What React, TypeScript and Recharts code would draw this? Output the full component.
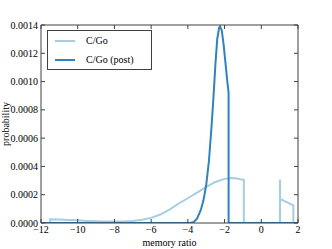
import React from 'react';
import { LineChart, Line, XAxis, YAxis, Legend } from 'recharts';

const FONT = '"Liberation Serif", "Times New Roman", serif';
const LIGHT = '#a6cee3';
const DARK = '#3182bd';

const xTicks = [-12, -10, -8, -6, -4, -2, 0, 2];
const yTicks = [0, 0.0002, 0.0004, 0.0006, 0.0008, 0.001, 0.0012, 0.0014];

const cgoX = [-12, -11.5, -11.5, -11, -10.5, -10, -9.5, -9, -8.5, -8, -7.5, -7, -6.5, -6, -5.5, -5, -4.5, -4, -3.5, -3, -2.5, -2, -1.7, -1.4, -1.15, -0.95, -0.95, 1.02, 1.02, 1.02, 1.75, 1.75, 2];
const cgoY = [0, 0, 0.000027, 0.000025, 0.000022, 0.000019, 0.000015, 0.000012, 0.00001, 0.00001, 0.000011, 0.000015, 0.000023, 0.000036, 0.00006, 0.000095, 0.000138, 0.000175, 0.000215, 0.000255, 0.00029, 0.000312, 0.000318, 0.000317, 0.00031, 0.000305, 0, 0, 0.000305, 0.00017, 0.000125, 0, 0];

const postX = [-12, -3.9, -3.7, -3.5, -3.3, -3.15, -3.0, -2.85, -2.7, -2.6, -2.5, -2.4, -2.3, -2.25, -2.15, -2.05, -1.95, -1.85, -1.78, -1.78, 2];
const postY = [0, 0, 0.000005, 0.00003, 0.00009, 0.00016, 0.00027, 0.00044, 0.0007, 0.0009, 0.00112, 0.0013, 0.00138, 0.00139, 0.00136, 0.00126, 0.00113, 0.001, 0.00092, 0, 0];

const cgoData = cgoX.map((x, i) => ({ x, y: cgoY[i] }));
const postData = postX.map((x, i) => ({ x, y: postY[i] }));

const tickStyle = { fontFamily: FONT, fontSize: 10, fill: '#000' };
const axisStroke = '#404040';

const LegendBox = (props: any) => {
  const payload = props.payload || [];
  return (
    <div
      style={{
        width: 105,
        height: 40,
        border: '1px solid #404040',
        boxSizing: 'border-box',
        background: '#fff',
        position: 'relative',
        fontFamily: FONT,
        fontSize: 10,
        color: '#000',
      }}
    >
      {payload.map((p: any, i: number) => (
        <div key={i} style={{ position: 'absolute', left: 0, top: 3 + i * 18.5, height: 14, width: 103 }}>
          <div style={{ position: 'absolute', left: 7, top: 6, width: 20, height: 2, background: p.color }} />
          <span style={{ position: 'absolute', left: 38, top: 0, lineHeight: '14px', whiteSpace: 'nowrap' }}>{p.value}</span>
        </div>
      ))}
    </div>
  );
};

const YLabel = (props: any) => {
  const vb = props.viewBox || { y: 25, height: 198 };
  const cy = vb.y + vb.height / 2;
  return (
    <text x={8.5} y={cy} transform={`rotate(-90, 8.5, ${cy})`} textAnchor="middle" style={{ fontFamily: FONT, fontSize: 10, fill: '#000' }}>
      probability
    </text>
  );
};

export default function App() {
  return (
    <div style={{ position: 'absolute', left: 0, top: 0, width: 332, height: 249, background: '#fff', fontFamily: FONT }}>
      <LineChart width={332} height={249} margin={{ top: 24, right: 33, bottom: 0, left: 0 }} style={{ fontFamily: FONT }}>
        <XAxis
          xAxisId="b"
          type="number"
          dataKey="x"
          domain={[-12, 2]}
          ticks={xTicks}
          allowDataOverflow
          height={26}
          tickSize={-4}
          tickMargin={7}
          stroke={axisStroke}
          tick={tickStyle}
          tickFormatter={(v: number) => (v < 0 ? '\u2212' + Math.abs(v) : String(v))}
          label={{ value: 'memory ratio', position: 'insideBottom', offset: 3, style: { fontFamily: FONT, fontSize: 10, fill: '#000' } }}
        />
        <XAxis
          xAxisId="t"
          orientation="top"
          type="number"
          dataKey="x"
          domain={[-12, 2]}
          ticks={xTicks}
          allowDataOverflow
          height={1}
          tickSize={-4}
          stroke={axisStroke}
          tickFormatter={() => ''}
        />
        <YAxis
          yAxisId="l"
          type="number"
          domain={[0, 0.0014]}
          ticks={yTicks}
          allowDataOverflow
          width={41}
          tickSize={-4}
          tickMargin={7}
          stroke={axisStroke}
          tick={tickStyle}
          tickFormatter={(v: number) => v.toFixed(4)}
          label={<YLabel />}
        />
        <YAxis
          yAxisId="r"
          orientation="right"
          type="number"
          domain={[0, 0.0014]}
          ticks={yTicks}
          allowDataOverflow
          width={1}
          tickSize={-4}
          stroke={axisStroke}
          tickFormatter={() => ''}
        />
        <Legend
          layout="vertical"
          align="center"
          verticalAlign="middle"
          content={<LegendBox />}
          wrapperStyle={{ position: 'absolute', left: 47, top: 30, width: 105, height: 40 }}
        />
        <Line
          xAxisId="b"
          yAxisId="l"
          data={cgoData}
          dataKey="y"
          name="C/Go"
          type="linear"
          stroke={LIGHT}
          strokeWidth={2}
          dot={false}
          isAnimationActive={false}
        />
        <Line
          xAxisId="b"
          yAxisId="l"
          data={postData}
          dataKey="y"
          name="C/Go (post)"
          type="linear"
          stroke={DARK}
          strokeWidth={2}
          dot={false}
          isAnimationActive={false}
        />
      </LineChart>
    </div>
  );
}
